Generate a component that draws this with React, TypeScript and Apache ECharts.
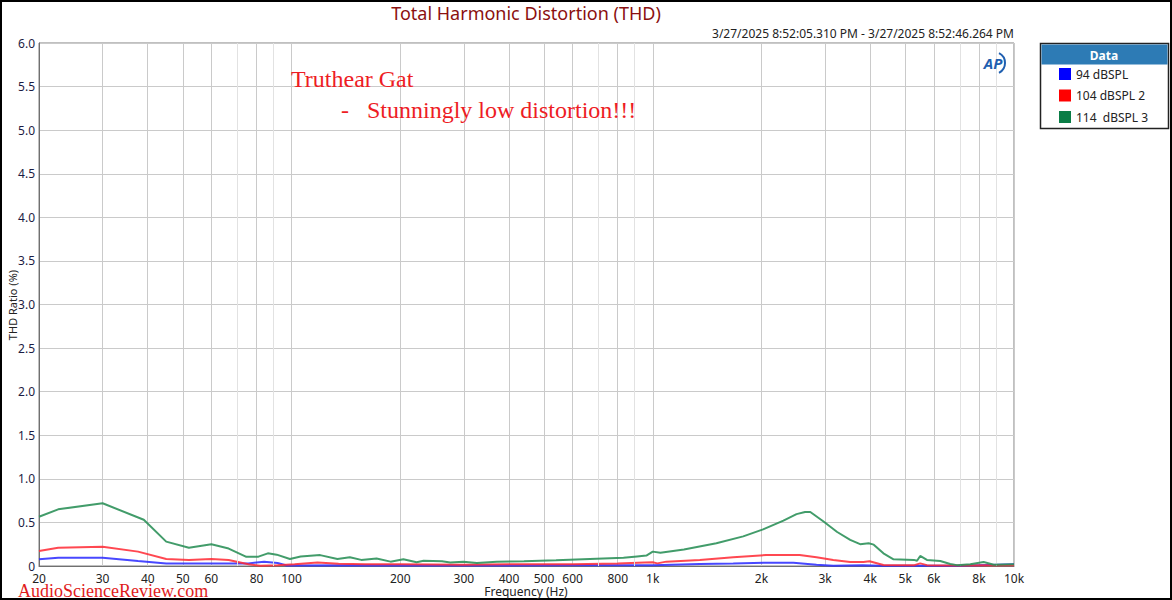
import React, { useEffect, useRef } from "react";
import * as echarts from "echarts";

// ---- data (frequency in Hz, THD in %) ----
const freq94 = [20, 22.6, 30, 37.6, 45, 60, 76, 84, 91.5, 97, 150, 300, 600, 1000, 1350, 1670, 2060, 2450, 2840, 3160, 3800, 4300, 7000, 9000, 10000];
const thd94 = [0.077, 0.095, 0.095, 0.057, 0.03, 0.03, 0.03, 0.05, 0.035, 0.005, 0.008, 0.006, 0.008, 0.008, 0.023, 0.03, 0.038, 0.038, 0.015, 0.004, 0.01, 0.002, 0.002, 0.015, 0.02];

const freq104 = [20, 22.6, 30, 37.6, 45, 52, 60, 67, 76, 82, 91.5, 102, 118, 135, 160, 200, 300, 400, 600, 800, 950, 1000, 1030, 1090, 1350, 1670, 2060, 2550, 2840, 3160, 3520, 3830, 3980, 4350, 5300, 5500, 5740, 7000, 10000];
const thd104 = [0.172, 0.21, 0.22, 0.165, 0.08, 0.069, 0.08, 0.068, 0.02, 0.004, 0.01, 0.02, 0.04, 0.025, 0.02, 0.02, 0.015, 0.02, 0.02, 0.03, 0.04, 0.042, 0.03, 0.05, 0.069, 0.1, 0.126, 0.126, 0.1, 0.069, 0.046, 0.046, 0.055, 0.011, 0.01, 0.03, 0.01, 0.005, 0.008];

const freq114 = [20, 22.6, 30, 39, 45, 52, 60, 67, 75, 81, 86, 91, 99, 106, 120, 134, 145, 156, 172, 188, 204, 222, 232, 261, 275, 299, 326, 370, 440, 540, 670, 830, 905, 960, 1000, 1050, 1220, 1500, 1780, 2020, 2300, 2500, 2640, 2730, 2970, 3240, 3520, 3750, 3960, 4090, 4350, 4640, 5280, 5390, 5500, 5740, 6250, 6660, 6950, 7570, 8240, 8790, 10000];
const thd114 = [0.565, 0.65, 0.72, 0.53, 0.28, 0.21, 0.25, 0.2, 0.105, 0.107, 0.145, 0.13, 0.08, 0.11, 0.125, 0.08, 0.1, 0.07, 0.085, 0.05, 0.077, 0.042, 0.06, 0.055, 0.04, 0.05, 0.035, 0.05, 0.055, 0.065, 0.08, 0.095, 0.11, 0.12, 0.165, 0.153, 0.19, 0.26, 0.34, 0.42, 0.52, 0.595, 0.62, 0.62, 0.51, 0.39, 0.3, 0.25, 0.26, 0.245, 0.145, 0.077, 0.07, 0.06, 0.115, 0.07, 0.058, 0.023, 0.01, 0.02, 0.045, 0.015, 0.02];

const seriesNames = ["94 dBSPL", "104 dBSPL 2", "114  dBSPL 3"];
const gridFreqs = [20, 30, 40, 50, 60, 80, 100, 200, 300, 400, 500, 600, 800, 1000, 2000, 3000, 4000, 5000, 6000, 8000, 10000];
const faintGridFreqs = [70, 90, 700, 900, 7000, 9000];
const labelFreqs = [20, 30, 40, 50, 60, 80, 100, 200, 300, 400, 500, 600, 800, 1000, 2000, 3000, 4000, 5000, 6000, 8000, 10000];

const titleText = "Total Harmonic Distortion (THD)";
const timeText = "3/27/2025 8:52:05.310 PM - 3/27/2025 8:52:46.264 PM";
const xAxisName = "Frequency (Hz)";
const yAxisName = "THD Ratio (%)";

const UI = "'Noto Sans', 'Open Sans', sans-serif";
const SERIF = "'Liberation Serif', 'Times New Roman', serif";

const toData = (f: number[], v: number[]) => f.map((x, i) => [Math.log10(x), v[i]]);

export default function App() {
  const ref = useRef<HTMLDivElement>(null);
  useEffect(() => {
    document.body.style.margin = "0";
    const chart = echarts.init(ref.current!, null, { renderer: "svg" });
    const lineColors = ["rgba(40,40,255,0.85)", "rgba(255,40,50,0.85)", "rgba(45,145,90,0.9)"];
    const iconColors = ["#0000ff", "#ff0000", "#0a7d46"];
    const datasets = [toData(freq94, thd94), toData(freq104, thd104), toData(freq114, thd114)];
    const gridVals = gridFreqs.map((f) => Math.log10(f));
    chart.setOption({
      animation: false,
      grid: {
        left: 39, top: 43, right: 158, bottom: 34,
        containLabel: false, outerBoundsMode: "none",
        show: true, borderColor: "#808080", borderWidth: 1, backgroundColor: "#fff",
      },
      xAxis: {
        type: "value",
        min: Math.log10(20),
        max: 4,
        axisLine: { show: true, lineStyle: { color: "#707070" } },
        axisTick: { show: false, customValues: gridVals },
        splitLine: { show: true, lineStyle: { color: "#cacaca" }, customValues: gridVals },
        axisLabel: {
          customValues: labelFreqs.map((f) => Math.log10(f)),
          margin: 6,
          fontFamily: UI,
          fontSize: 12,
          color: "#222",
          formatter: (v: number) => {
            const f = Math.round(Math.pow(10, v));
            return f >= 1000 ? f / 1000 + "k" : String(f);
          },
        },
      },
      yAxis: {
        type: "value",
        min: 0,
        max: 6,
        interval: 0.5,
        axisLine: { show: true, lineStyle: { color: "#707070" } },
        axisTick: { show: false },
        splitLine: { show: true, lineStyle: { color: "#cacaca" } },
        axisLabel: {
          margin: 4,
          fontFamily: UI,
          fontSize: 12,
          color: "#1c1c44",
          formatter: (v: number) => (v === 0 ? "0" : v.toFixed(1)),
        },
      },
      legend: {
        orient: "vertical",
        left: 1059,
        top: 68,
        padding: 0,
        itemWidth: 12,
        itemHeight: 12,
        itemGap: 9.5,
        icon: "rect",
        selectedMode: false,
        textStyle: { fontFamily: UI, fontSize: 12, color: "#222" },
        data: seriesNames,
      },
      series: [
        {
          name: "faint-grid",
          type: "line",
          data: [],
          z: 1,
          silent: true,
          markLine: {
            silent: true,
            symbol: "none",
            label: { show: false },
            lineStyle: { color: "#e2e2e2", type: "solid", width: 1 },
            data: faintGridFreqs.map((f) => ({ xAxis: Math.log10(f) })),
          },
        },
        ...seriesNames.map((name, i) => ({
          name,
          type: "line",
          data: datasets[i],
          showSymbol: false,
          symbol: "none",
          itemStyle: { color: iconColors[i] },
          lineStyle: { color: lineColors[i], width: 2 },
          z: 3 + i,
        })),
      ],
      graphic: [
        { type: "rect", z: -10, shape: { x: 1, y: 1, width: 1170, height: 598 }, style: { fill: "none", stroke: "#000", lineWidth: 2 } },
        { type: "text", x: 526, y: 13, style: { text: titleText, fill: "#8b1010", font: `18px ${UI}`, align: "center", verticalAlign: "middle" } },
        { type: "text", x: 1014, y: 33, style: { text: timeText, fill: "#222", font: `12px ${UI}`, align: "right", verticalAlign: "middle" } },
        { type: "text", x: 526, y: 591, style: { text: xAxisName, fill: "#222", font: `12px ${UI}`, align: "center", verticalAlign: "middle" } },
        { type: "text", x: 12, y: 305, rotation: Math.PI / 2, style: { text: yAxisName, fill: "#222", font: `11px ${UI}`, align: "center", verticalAlign: "middle" } },
        { type: "rect", z: 0, shape: { x: 1040.5, y: 43.5, width: 128, height: 85 }, style: { fill: "#fff", stroke: "#222", lineWidth: 1.5 } },
        { type: "rect", z: 0, shape: { x: 1041.5, y: 44.5, width: 126, height: 20 }, style: { fill: "#2d7bb5" } },
        { type: "text", z: 1, x: 1104, y: 55, style: { text: "Data", fill: "#fff", font: `bold 12px ${UI}`, align: "center", verticalAlign: "middle" } },
        { type: "text", z: 10, x: 993, y: 63, style: { text: "AP", fill: "#1f5fb0", font: `italic bold 15px ${UI}`, align: "center", verticalAlign: "middle" } },
        { type: "arc", z: 10, shape: { cx: 994, cy: 63, r: 11, startAngle: -1.1, endAngle: 1.1 }, style: { stroke: "#1f5fb0", lineWidth: 2, fill: "none" } },
        { type: "text", z: 10, x: 291, y: 79, style: { text: "Truthear Gat", fill: "#ee1c24", font: `24px ${SERIF}`, align: "left", verticalAlign: "middle" } },
        { type: "text", z: 10, x: 341, y: 110, style: { text: "-   Stunningly low distortion!!!", fill: "#ee1c24", font: `24px ${SERIF}`, align: "left", verticalAlign: "middle" } },
        { type: "text", z: 10, x: 18, y: 591, style: { text: "AudioScienceReview.com", fill: "#e01b1b", font: `18px ${SERIF}`, align: "left", verticalAlign: "middle" } },
      ],
    });
    return () => chart.dispose();
  }, []);
  return <div ref={ref} style={{ width: 1172, height: 600, background: "#fff" }} />;
}
